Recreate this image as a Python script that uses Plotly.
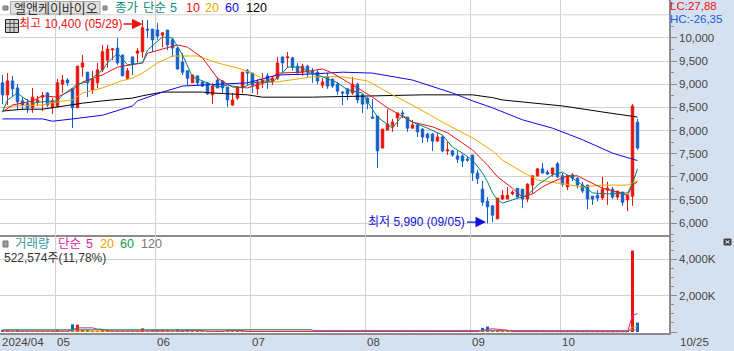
import plotly.graph_objects as go
from plotly.subplots import make_subplots

# ---------- data ----------
opens = [9030,8770,9070,8920,8640,8590,8490,8620,8720,8810,8490,8530,9000,9090,8900,8490,9370,9260,8880,9030,
 9310,9520,9740,9780,9630,9130,9590,9670,9700,10190,10190,10170,10060,10170,9960,9780,9480,9290,9030,9180,
 9050,9030,8770,9090,9070,8940,8550,8700,8940,9290,9240,8900,9030,9180,9050,9130,9590,9570,9570,9390,
 9260,9390,9290,9260,8980,9160,9110,9000,8830,8900,8810,9000,8770,8700,8290,8310,7620,8010,8100,8270,
 8380,8290,8050,8120,8030,7920,7920,7770,7860,7560,7560,7450,7450,7380,7470,7080,6730,6470,6370,6090,
 6520,6520,6630,6750,6730,6520,6820,7020,7170,7100,7060,7280,7020,6780,7040,6970,6820,6820,6580,6600,
 6540,6710,6730,6560,6670,6500,6580,8180]
highs = [9200,9240,9180,9000,8720,8680,8920,8750,8830,8830,8700,9110,9200,9130,8900,9390,9630,9260,9290,9460,
 9850,9850,9780,10000,9630,9350,9590,9780,10390,10390,10190,10320,10130,10170,10000,9800,9670,9290,9200,9180,
 9070,9050,9030,9160,9090,8940,8810,8960,9260,9330,9240,9110,9240,9240,9180,9590,9590,9700,9590,9460,
 9440,9420,9350,9310,9130,9240,9110,9050,8850,8900,9160,9030,8770,8720,8680,8310,8030,8460,8250,8380,
 8440,8290,8230,8160,8050,7950,7950,7950,7900,7750,7580,7560,7490,7430,7470,7150,6910,6560,6390,6540,
 6710,6780,6710,6750,6730,6860,7020,7190,7300,7150,7190,7320,7080,7040,7080,6990,6890,6820,6580,6710,
 7000,6890,6780,6690,6670,6600,8570,8250]
lows = [8570,8550,8720,8440,8440,8380,8380,8530,8420,8510,8360,8490,8810,8960,8050,8490,9160,8720,8790,8920,
 9260,9350,9520,9420,9180,9090,9200,9460,9570,10000,9700,9960,9800,9740,9590,9310,9200,8980,9030,8960,
 8940,8770,8570,8920,8810,8510,8530,8660,8810,8980,8810,8770,8920,8900,8980,9090,9260,9350,9290,9240,
 9180,9160,9030,9000,8920,8900,8920,8770,8550,8660,8770,8590,8380,8460,8250,7190,7620,8010,7970,8080,
 8270,7970,8050,7860,7730,7750,7560,7750,7530,7470,7430,7300,7210,7320,6910,6840,6370,5990,6020,6090,
 6500,6520,6600,6560,6320,6450,6630,7000,7080,7040,7000,6970,6780,6710,6910,6750,6650,6300,6390,6470,
 6500,6390,6520,6500,6370,6260,6370,7580]
closes = [8770,9070,8900,8620,8550,8490,8720,8660,8750,8550,8640,9030,9090,9030,8490,9390,9460,9030,9110,9310,
 9700,9760,9760,9460,9180,9290,9420,9720,10220,10170,9960,10040,10110,9850,9780,9330,9260,9130,9200,9030,
 8960,8790,8960,8920,8920,8660,8660,8940,9260,9240,8980,9050,9110,9070,9130,9460,9460,9590,9370,9240,
 9390,9260,9240,9070,9050,8960,8960,8850,8810,8790,9000,8660,8570,8590,8270,7560,8030,8140,8180,8380,
 8360,8050,8120,7970,7860,7840,7770,7860,7560,7580,7470,7380,7340,7360,7080,6960,6450,6350,6170,6540,
 6600,6600,6670,6560,6520,6840,7020,7170,7080,7060,7190,7000,6840,7020,6970,6820,6690,6520,6520,6540,
 6730,6750,6560,6690,6450,6600,8530,7620]
volumes = [60,70,50,60,35,35,40,30,30,45,30,60,40,30,420,400,90,110,40,40,
 110,70,30,50,40,30,35,40,200,40,60,80,60,70,50,160,70,70,30,30,
 30,30,40,30,40,40,40,40,50,40,35,30,40,30,35,40,30,30,30,35,
 30,30,40,30,30,35,30,35,30,30,40,30,30,35,40,50,45,40,35,30,
 40,30,30,35,30,30,35,30,30,35,30,35,35,30,50,40,230,300,70,60,
 40,35,30,30,35,40,30,30,35,30,35,30,35,30,30,35,30,35,30,30,
 35,30,30,35,30,30,4490,522]

ma5_idx = [0,1,3,4,6,8,11,12,14,15,17,20,21,23,25,28,29,32,34,36,38,41,43,45,48,50,52,54,56,57,60,61,64,67,69,72,73,75,77,78,80,82,85,88,90,92,94,96,97,98,99,100,102,105,107,110,112,114,116,118,121,125,126,127]
ma5_val = [8400,8660,8810,8720,8590,8620,8640,8770,8920,9000,9050,9310,9460,9670,9420,9460,9740,10020,10000,9630,9160,9030,8940,8980,8920,9030,9050,9050,9240,9370,9370,9260,9160,9030,8880,8810,8620,8290,8120,8050,8330,8180,8050,7900,7640,7510,7360,7080,6890,6650,6500,6430,6500,6600,6820,7040,7100,6970,6820,6650,6630,6650,6860,7170]
ma10_idx = [0,2,6,8,11,14,16,20,23,28,29,33,35,37,40,43,46,49,53,55,60,64,66,71,74,77,82,86,89,94,97,99,102,104,106,108,110,113,115,117,120,123,125,126,127]
ma10_val = [8400,8550,8640,8750,8720,8880,9050,9200,9370,9460,9670,9780,9850,9800,9570,9130,8940,8920,9050,9240,9260,9330,9240,8920,8720,8490,8180,8080,7950,7580,7250,7000,6750,6560,6630,6780,6890,7020,7020,6910,6750,6670,6600,6820,6890]
ma20_idx = [0,2,8,11,14,16,20,24,26,28,31,34,39,43,47,50,53,55,62,68,73,78,83,88,94,98,100,104,107,112,116,120,125,127]
ma20_val = [8490,8530,8550,8620,8660,8810,8920,9080,9130,9240,9460,9610,9610,9460,9350,9240,9050,9050,9160,9160,9070,8770,8490,8180,7840,7560,7360,7100,6930,6840,6780,6820,6820,6910]
ma60_idx = [0,8,10,12,14,20,26,27,32,36,40,49,55,62,68,74,82,90,94,98,104,110,116,122,127]
ma60_val = [8250,8250,8200,8230,8250,8330,8530,8640,8830,8960,8980,9030,9200,9220,9260,9240,9090,8810,8640,8490,8230,8050,7800,7510,7350]
ma120_idx = [0,4,8,13,16,20,26,28,32,40,42,49,52,62,84,94,98,100,112,120,127]
ma120_val = [8420,8460,8460,8550,8590,8640,8700,8750,8830,8830,8810,8770,8720,8720,8770,8770,8710,8660,8530,8400,8290]

vma5_idx = [0,13,14,15,18,19,20,21,36,37,40,41,44,45,48,49,95,96,98,101,102,118,119,125,126,127]
vma5_val = [60,50,130,230,230,160,150,60,60,80,80,40,40,80,80,30,30,100,180,100,20,20,10,10,917,1010]
vma20_idx = [0,124,125,126,127]
vma20_val = [50,45,60,270,300]
vma60_idx = [0,62]
vma60_val = [125,125]
vma120_idx = [62,125,127]
vma120_val = [85,85,130]

price_ticks = [6000,6500,7000,7500,8000,8500,9000,9500,10000]
price_labels = ["6,000","6,500","7,000","7,500","8,000","8,500","9,000","9,500","10,000"]
price_minor = [5750,6250,6750,7250,7750,8250,8750,9250,9750,10250,10750]
vol_ticks = [0,2000,4000]
vol_labels = ["","2,000K","4,000K"]
vol_minor = [500,1000,1500,2500,3000,3500,4500,5000]
month_idx = [10.5,30.5,49.5,72.5,93.5,111.5]
date_labels = ["2024/04","05","06","07","08","09","10"]

RED, BLUE = "#e8170e", "#1560c8"
GRID, AXIS, BAND, TXT = "#d2d2d2", "#8c8c8c", "#d6e1ef", "#444444"
FONT = "Liberation Sans, Noto Sans CJK KR, sans-serif"
PLOT_W, PLOT_H = 669.0, 333.0

def px(x): return x / PLOT_W
def py(y): return 1 - y / PLOT_H

fig = make_subplots(rows=2, cols=1, shared_xaxes=True, vertical_spacing=0,
                    row_heights=[235/333, 98/333])
idx = list(range(len(closes)))
fig.add_trace(go.Candlestick(x=idx, open=opens, high=highs, low=lows, close=closes,
    increasing=dict(line=dict(color=RED, width=1), fillcolor=RED),
    decreasing=dict(line=dict(color=BLUE, width=1), fillcolor=BLUE),
    whiskerwidth=0, showlegend=False), row=1, col=1)
for xs, ys, c in [(ma120_idx, ma120_val, "#000000"), (ma60_idx, ma60_val, "#0a0ae6"),
                  (ma20_idx, ma20_val, "#f0a800"), (ma10_idx, ma10_val, "#ee1111"),
                  (ma5_idx, ma5_val, "#00857a")]:
    fig.add_trace(go.Scatter(x=xs, y=ys, mode="lines", line=dict(color=c, width=1),
                             showlegend=False, hoverinfo="skip"), row=1, col=1)

bar_cols = [RED if c >= o else BLUE for o, c in zip(opens, closes)]
fig.add_trace(go.Bar(x=idx, y=volumes, marker=dict(color=bar_cols, line=dict(width=0)),
                     width=0.6, showlegend=False), row=2, col=1)
for xs, ys, c in [(vma20_idx, vma20_val, "#f0a000"), (vma5_idx, vma5_val, "#e020a0"),
                  (vma120_idx, vma120_val, "#777777"), (vma60_idx, vma60_val, "#109a50")]:
    fig.add_trace(go.Scatter(x=xs, y=ys, mode="lines", line=dict(color=c, width=1),
                             showlegend=False, hoverinfo="skip"), row=2, col=1)

xr = [-0.5, (PLOT_W - 2.5) / 5]
for r in (1, 2):
    fig.update_xaxes(range=xr, tickvals=month_idx, showticklabels=False, ticks="",
                     showgrid=True, gridcolor=GRID, gridwidth=1, zeroline=False,
                     showline=True, linecolor=AXIS, linewidth=1.5, mirror=False,
                     rangeslider_visible=False, row=r, col=1)
fig.update_yaxes(side="right", range=[5741, 10820], tickvals=price_ticks, ticktext=price_labels,
                 ticks="outside", ticklen=6, tickcolor=AXIS, tickfont=dict(size=11.5, color=TXT, family=FONT),
                 showgrid=True, gridcolor=GRID, gridwidth=1, zeroline=False,
                 showline=True, linecolor=AXIS, linewidth=1.5,
                 minor=dict(tickvals=price_minor, ticks="outside", ticklen=3, tickcolor=AXIS, showgrid=False),
                 row=1, col=1)
fig.update_yaxes(side="right", range=[-55, 5344], tickvals=vol_ticks, ticktext=vol_labels,
                 ticks="outside", ticklen=6, tickcolor=AXIS, tickfont=dict(size=11.5, color=TXT, family=FONT),
                 showgrid=True, gridcolor=GRID, gridwidth=1, zeroline=False,
                 showline=True, linecolor=AXIS, linewidth=1.5,
                 minor=dict(tickvals=vol_minor, ticks="outside", ticklen=3, tickcolor=AXIS, showgrid=False),
                 row=2, col=1)

def text(x, y, s, color=TXT, size=12, anchor="left"):
    fig.add_annotation(xref="paper", yref="paper", x=px(x), y=py(y), text=s, showarrow=False,
                       xanchor=anchor, yanchor="middle", font=dict(size=size, color=color, family=FONT),
                       borderpad=0, borderwidth=0)

# upper legend
TEAL = "#0d8c7a"
text(14, 8, "엘앤케이바이오", "#333333", 13)
for x, s, c in [(115, "종가", TEAL), (143, "단순", TEAL), (170, "5", TEAL),
                (186, "10", "#ee1111"), (205, "20", "#f0a800"), (225, "60", "#0a0ae6"), (246, "120", "#000000")]:
    text(x, 8, s, c, 12.5)
# lower legend
for x, s, c in [(15, "거래량", "#3a9a9a"), (58, "단순", "#e020a0"), (86, "5", "#e020a0"),
                (100, "20", "#f0a000"), (120, "60", "#109a50"), (141, "120", "#777777")]:
    text(x, 244, s, c, 12.5)
text(4, 258, "522,574주(11,78%)", "#333333", 12)
text(670, 6, "LC:27,88", "#ee1111", 11.5)
text(670, 19, "HC:-26,35", "#1060e0", 11.5)

# date labels
label_pos = [-0.3] + [m + 0.2 for m in month_idx]
for i, s in zip(label_pos, date_labels):
    fig.add_annotation(xref="x2", yref="paper", x=i, y=py(342), text=s, showarrow=False, xanchor="left",
                       yanchor="middle", font=dict(size=11.5, color=TXT, family=FONT), borderpad=0)
text(680, 342, "10/25", TXT, 11.5)

# high / low callouts
fig.add_annotation(xref="x", yref="y", x=28, y=10300, ax=-19, ay=0, text="최고 10,400 (05/29)",
                   xanchor="right", yanchor="middle", font=dict(size=12, color="#ee1111", family=FONT),
                   showarrow=True, arrowhead=2, arrowsize=1.5, arrowwidth=1.4, arrowcolor="#ee1111", standoff=0)
fig.add_annotation(xref="x", yref="y", x=96.7, y=6020, ax=-19, ay=0, text="최저 5,990 (09/05)",
                   xanchor="right", yanchor="middle", font=dict(size=12, color="#1010dd", family=FONT),
                   showarrow=True, arrowhead=2, arrowsize=1.5, arrowwidth=1.4, arrowcolor="#1010dd", standoff=0)

shapes = []
def rect(x0, y0, x1, y1, fill, line=None, lw=1):
    shapes.append(dict(type="rect", xref="paper", yref="paper", x0=px(x0), x1=px(x1), y0=py(y0), y1=py(y1),
                       fillcolor=fill, line=dict(color=line or fill, width=lw), layer="above"))
def seg(x0, y0, x1, y1, c, lw=1):
    shapes.append(dict(type="line", xref="paper", yref="paper", x0=px(x0), x1=px(x1), y0=py(y0), y1=py(y1),
                       line=dict(color=c, width=lw), layer="above"))
# 10,500 grid line
shapes.append(dict(type="line", xref="paper", yref="y", x0=0, x1=1, y0=10500, y1=10500,
                   line=dict(color=GRID, width=1), layer="below"))
# title button and squares
rect(3, 6, 8, 10, "#9a9a9a", "#777777")
rect(10.5, 1.5, 100, 14, "#e2e2e2", "#a8a8a8")
rect(103, 6, 107, 10, "#9a9a9a", "#777777")
rect(3, 241, 8, 247, "#9a9a9a", "#777777")
# table icon
rect(5.5, 19.5, 18.5, 32.5, "#cfcfcf", "#222222", 1)
for v in (10, 14):
    seg(v, 20, v, 32, "#555555")
for v in (23.5, 27.5):
    seg(6, v, 18, v, "#555555")
# close button
rect(724, 239, 731, 245, "#444444", "#444444")
seg(725.5, 240.5, 729.5, 243.5, "#ffffff"); seg(725.5, 243.5, 729.5, 240.5, "#ffffff")
fig.update_layout(shapes=shapes)

fig.update_layout(width=734, height=351, autosize=False, margin=dict(l=0, r=65, t=0, b=18),
                  paper_bgcolor=BAND, plot_bgcolor="#ffffff", showlegend=False, hovermode=False,
                  bargap=0.4, boxgap=0.3, dragmode=False, font=dict(family=FONT))
fig.write_html("out.html", config=dict(displayModeBar=False),
               post_script="document.body.style.margin='0';document.body.style.overflow='hidden';")
